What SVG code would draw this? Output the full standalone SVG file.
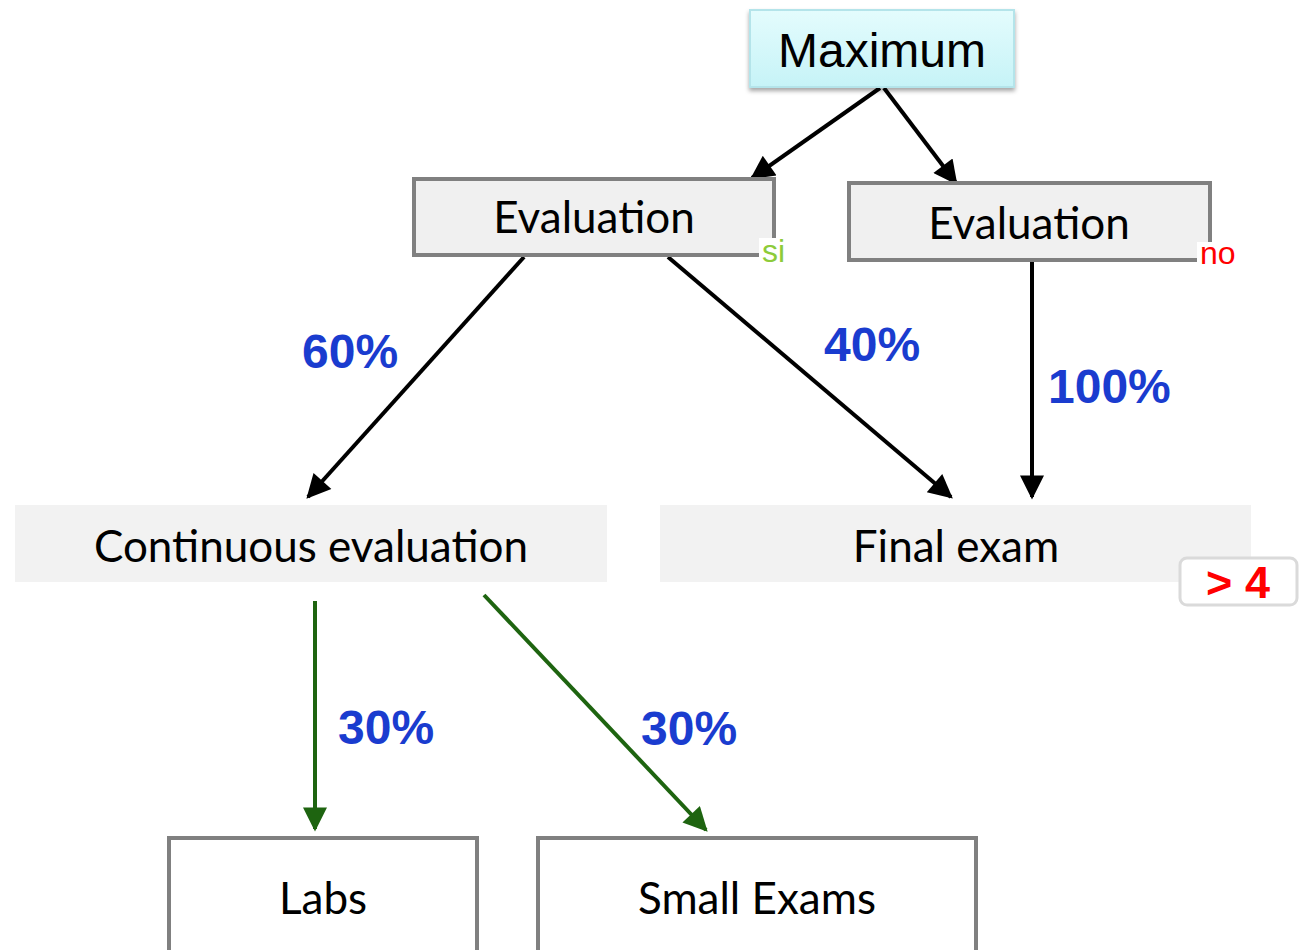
<svg xmlns="http://www.w3.org/2000/svg" width="1301" height="950" viewBox="0 0 1301 950">
  <style>
    .node-text { font-family: "Lato", "Open Sans", sans-serif; font-size: 44px; fill: #000; text-anchor: middle; }
    .pct { font-family: "Liberation Sans", Arial, sans-serif; font-weight: bold; font-size: 48px; fill: #1a3ccf; }
    .box { fill: #f0f0f0; stroke: #808080; stroke-width: 4; }
    .leaf { fill: #ffffff; stroke: #808080; stroke-width: 4; }
    .band { fill: #f2f2f2; }
    .black { stroke: #000; stroke-width: 4; fill: none; marker-end: url(#ahBlack); }
    .green { stroke: #1e6410; stroke-width: 4; fill: none; marker-end: url(#ahGreen); }
  </style>
  <defs>
    <linearGradient id="cyanFill" x1="0" y1="0" x2="0" y2="1">
      <stop offset="0" stop-color="#e4fcfd"/>
      <stop offset="1" stop-color="#c6f3f7"/>
    </linearGradient>
    <filter id="shadow" x="-10%" y="-10%" width="120%" height="130%">
      <feDropShadow dx="0" dy="3" stdDeviation="2" flood-color="#000" flood-opacity="0.35"/>
    </filter>
    <marker id="ahBlack" viewBox="0 0 10 10" refX="9" refY="5" markerWidth="7" markerHeight="6" markerUnits="strokeWidth" orient="auto">
      <path d="M0,0 L10,5 L0,10 z" fill="#000"/>
    </marker>
    <marker id="ahGreen" viewBox="0 0 10 10" refX="9" refY="5" markerWidth="7" markerHeight="6" markerUnits="strokeWidth" orient="auto">
      <path d="M0,0 L10,5 L0,10 z" fill="#1e6410"/>
    </marker>
  </defs>

  <!-- connectors -->
  <g id="connectors">
    <line class="black" x1="880" y1="88" x2="752" y2="178"/>
    <line class="black" x1="884" y1="88" x2="956" y2="183"/>
    <line class="black" x1="524" y1="257" x2="308" y2="497"/>
    <line class="black" x1="668" y1="257" x2="951" y2="497"/>
    <line class="black" x1="1032" y1="260" x2="1032" y2="497"/>
    <line class="green" x1="315" y1="601" x2="315" y2="829"/>
    <line class="green" x1="484" y1="595" x2="706" y2="830"/>
    <text class="pct" x="302" y="368">60%</text>
    <text class="pct" x="824" y="361">40%</text>
    <text class="pct" x="1048" y="403">100%</text>
    <text class="pct" x="338" y="744">30%</text>
    <text class="pct" x="641" y="745">30%</text>
  </g>

  <g id="maximum">
    <rect x="750" y="10" width="264" height="77" fill="url(#cyanFill)" stroke="#b4e4ea" stroke-width="2" filter="url(#shadow)"/>
    <text x="882" y="67" font-family="Liberation Sans, Arial, sans-serif" font-size="48" text-anchor="middle" fill="#000">Maximum</text>
  </g>

  <g id="evaluation-si">
    <rect class="box" x="414" y="179" width="360" height="76"/>
    <text class="node-text" x="594" y="233">Evaluation</text>
    <rect x="759" y="238" width="32" height="28" fill="#fff"/>
    <text x="762" y="262" font-family="Liberation Sans, Arial, sans-serif" font-size="32" fill="#8dcb3a">si</text>
  </g>

  <g id="evaluation-no">
    <rect class="box" x="849" y="183" width="361" height="77"/>
    <text class="node-text" x="1029" y="239">Evaluation</text>
    <rect x="1197" y="242" width="44" height="26" fill="#fff"/>
    <text x="1200" y="264" font-family="Liberation Sans, Arial, sans-serif" font-size="32" fill="#f00">no</text>
  </g>

  <g id="continuous-evaluation">
    <rect class="band" x="15" y="505" width="592" height="77"/>
    <text class="node-text" x="311" y="562">Continuous evaluation</text>
  </g>

  <g id="final-exam">
    <rect class="band" x="660" y="505" width="591" height="77"/>
    <text class="node-text" x="956" y="562">Final exam</text>
  </g>

  <g id="threshold">
    <rect x="1180" y="558" width="117" height="47" rx="7" fill="#fff" stroke="#dadada" stroke-width="3"/>
    <text x="1238" y="598" font-family="Liberation Sans, Arial, sans-serif" font-weight="bold" font-size="45" fill="#f00" text-anchor="middle">&gt; 4</text>
  </g>

  <g id="labs">
    <rect class="leaf" x="169" y="838" width="308" height="120"/>
    <text class="node-text" x="323" y="914">Labs</text>
  </g>

  <g id="small-exams">
    <rect class="leaf" x="538" y="838" width="438" height="120"/>
    <text class="node-text" x="757" y="914">Small Exams</text>
  </g>
</svg>
